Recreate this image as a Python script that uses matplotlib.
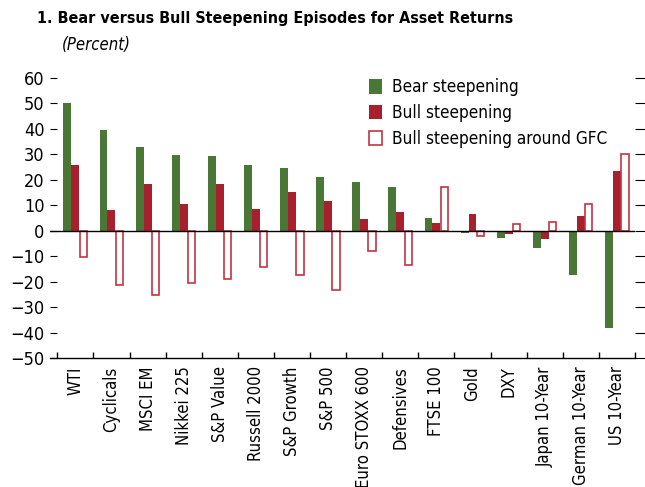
import numpy as np
import matplotlib
matplotlib.use("Agg")
import matplotlib.pyplot as plt

plt.rcParams['font.family'] = ['DejaVu Sans']
plt.rcParams['font.stretch'] = 'condensed'

# Asset classes and returns (percent)
assets = ["WTI", "Cyclicals", "MSCI EM", "Nikkei 225", "S&P Value", "Russell 2000",
          "S&P Growth", "S&P 500", "Euro STOXX 600", "Defensives", "FTSE 100",
          "Gold", "DXY", "Japan 10-Year", "German 10-Year", "US 10-Year"]
bear = [50, 39.6, 32.9, 29.7, 29.3, 25.8, 24.6, 21.1, 19.1, 17.2, 5.0,
        -1.0, -2.7, -6.7, -17.3, -38.1]
bull = [26, 8.1, 18.4, 10.5, 18.4, 8.5, 15.2, 11.7, 4.6, 7.3, 3.0,
        6.6, -1.4, -3.1, 5.8, 23.5]
bull_gfc = [-10.5, -21.3, -25.3, -20.6, -19.0, -14.4, -17.5, -23.3, -7.8, -13.5, 17.3,
            -2.2, 2.5, 3.4, 10.6, 30]

green = "#4a7636"
red = "#a81f2e"
red_edge = "#c13441"

fig = plt.figure(figsize=(6.45, 4.87), dpi=100)
ax = fig.add_axes([50 / 645, 1 - 358 / 487, 585 / 645, 280 / 487])

x = np.arange(len(assets))
w = 0.22
ax.bar(x - w, bear, w, color=green, label="Bear steepening")
ax.bar(x, bull, w, color=red, label="Bull steepening")
ax.bar(x + w, bull_gfc, w * 0.92, facecolor="white", edgecolor=red_edge, linewidth=1.2,
       label="Bull steepening around GFC")

ax.axhline(0, color="black", linewidth=1)
ax.set_ylim(-50, 60)
ax.set_xlim(-0.5 - 7.3 / 36.1, 15.5)
ax.set_yticks(range(-50, 61, 10))
ax.set_yticklabels([str(v).replace("-", "\u2212") for v in range(-50, 61, 10)], fontsize=13)

ax.set_xticks(x)
ax.set_xticklabels(assets, rotation=90, fontsize=12)
ax.set_xticks(np.arange(-0.5, 15.6, 1), minor=True)
ax.tick_params(axis="x", which="major", length=0, pad=6)
ax.tick_params(axis="x", which="minor", direction="in", length=4, width=1)
ax.tick_params(axis="y", left=True, right=True, direction="in", length=5, pad=4)

# right-hand ticks point outward
for t in ax.yaxis.get_major_ticks():
    t.tick2line.set_marker(matplotlib.lines.TICKRIGHT)
    t.tick2line.set_markersize(7)

for s in ["top", "left", "right"]:
    ax.spines[s].set_visible(False)
ax.spines["bottom"].set_linewidth(1)

ax.legend(loc="upper left", bbox_to_anchor=(0.528, 1.035), frameon=False, fontsize=12.3,
          handlelength=0.75, handleheight=0.9, handletextpad=0.6, labelspacing=0.45,
          borderaxespad=0.2)

fig.text(37 / 645, 1 - 18 / 487, "1. Bear versus Bull Steepening Episodes for Asset Returns",
         fontsize=11.5, fontweight="bold", va="center", ha="left")
fig.text(62 / 645, 1 - 45 / 487, "(Percent)", fontsize=12, style="italic", va="center", ha="left")

fig.savefig("out.png", dpi=100)
